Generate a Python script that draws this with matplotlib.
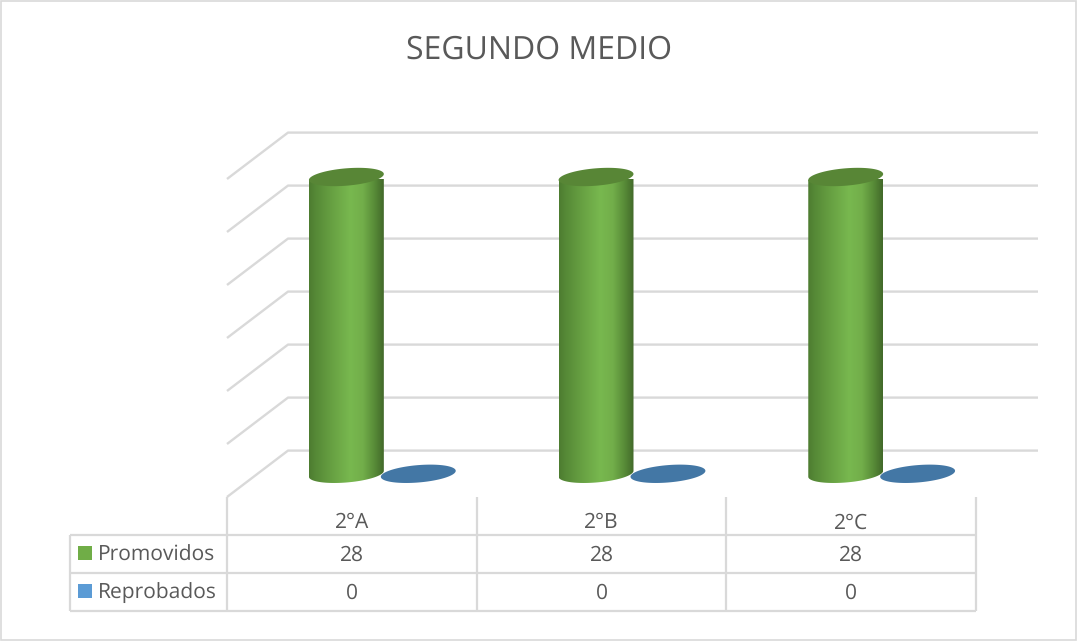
import numpy as np
import matplotlib
matplotlib.use("Agg")
import matplotlib.pyplot as plt
from matplotlib.colors import LinearSegmentedColormap
from matplotlib.patches import Polygon, Rectangle

plt.rcParams["font.family"] = ["Open Sans", "DejaVu Sans"]
plt.rcParams["text.hinting"] = "no_hinting"
plt.rcParams["text.hinting_factor"] = 1

# --- DATA ---
title = "SEGUNDO MEDIO"
categories = ["2°A", "2°B", "2°C"]
promovidos = [28, 28, 28]
reprobados = [0, 0, 0]
series_names = ["Promovidos", "Reprobados"]
grid_values = [0, 5, 10, 15, 20, 25, 30]

GRID = "#d9d9d9"
TEXT = "#595959"
W, H = 1077, 641

fig = plt.figure(figsize=(W / 100, H / 100), dpi=100, facecolor="white")

# pixel layer for frame and table
bg = fig.add_axes([0, 0, 1, 1])
bg.set_xlim(0, W)
bg.set_ylim(H, 0)
bg.axis("off")

# plot axes: x = category index, y = value, zero on the front floor edge
px_unit = 10.6
x0, x1 = 227, 976
y_zero = 497
ax = fig.add_axes([x0 / W, 1 - y_zero / H, (x1 - x0) / W, 30 * px_unit / H])
ax.set_xlim(-0.5, 2.5)
ax.set_ylim(0, 30)
ax.axis("off")

cat_px = (x1 - x0) / 3
depth_x = 61 / cat_px
depth_y = 46.4 / px_unit

# walls
for v in grid_values:
    ax.plot([-0.5, -0.5 + depth_x, 2.5 + depth_x + 0.004], [v, v + depth_y, v + depth_y],
            color=GRID, lw=1.7, clip_on=False, zorder=1, solid_capstyle="butt")


def ellipse(cx, cy, n=120):
    a, b, s = 0.15, 0.82, 0.28
    t = np.linspace(0, 2 * np.pi, n)
    return cx + a * np.cos(t), cy + b * np.sin(t) + s * np.cos(t)


green_map = LinearSegmentedColormap.from_list(
    "green", [(0, "#4d7c30"), (0.08, "#558836"), (0.3, "#67a042"), (0.55, "#78b84f"),
              (0.72, "#72ae4a"), (0.88, "#578a37"), (1, "#42692a")])
grad = np.linspace(0, 1, 256).reshape(1, -1)


def cylinder(cx, cy, value):
    bx, by = ellipse(cx, cy)
    tx, ty = ellipse(cx, cy + value)
    # lower half of the base, upper side of the body
    low = by <= cy + 0.28 * (bx - cx) / 0.15
    order = np.argsort(bx[low])
    body = np.vstack([
        np.column_stack([bx[low][order], by[low][order]]),
        [[cx + 0.15, cy + value + 0.28]],
        [[cx - 0.15, cy + value - 0.28]],
    ])
    im = ax.imshow(grad, cmap=green_map, aspect="auto", zorder=3,
                   extent=[cx - 0.15, cx + 0.15, cy - 2, cy + value + 2])
    im.set_clip_path(Polygon(body, closed=True, transform=ax.transData))
    ax.fill(tx, ty, color="#588636", lw=0, zorder=4, clip_on=False)


for i, (p, r) in enumerate(zip(promovidos, reprobados)):
    cy = depth_y / 2
    cylinder(i - 0.144 + depth_x / 2, cy, p)
    ex, ey = ellipse(i + 0.144 + depth_x / 2, cy + r)
    ax.fill(ex, ey, color="#4377a5", lw=0, zorder=5, clip_on=False)

ax.set_xlim(-0.5, 2.5)
ax.set_ylim(0, 30)

# --- TABLE ---
row_lines = [535, 573, 611]
col_lines = [227, 477, 726, 976]
for y in row_lines:
    bg.plot([70, 976], [y, y], color=GRID, lw=1.6, solid_capstyle="butt")
for x in col_lines:
    bg.plot([x, x], [497, 611], color=GRID, lw=1.6, solid_capstyle="butt")
bg.plot([70, 70], [535, 611], color=GRID, lw=1.6, solid_capstyle="butt")

for i, c in enumerate(categories):
    xc = x0 + cat_px * (i + 0.5)
    bg.text(xc, 523, c, ha="center", va="center", fontsize=14.8, color=TEXT)
    bg.text(xc, 555, str(promovidos[i]), ha="center", va="center", fontsize=14.8, color=TEXT)
    bg.text(xc, 593, str(reprobados[i]), ha="center", va="center", fontsize=14.8, color=TEXT)

for name, y, col in zip(series_names, [553, 591], ["#70ad47", "#5b9bd5"]):
    bg.add_patch(Rectangle((78, y - 7), 14, 14, facecolor=col, edgecolor="none"))
    bg.text(98, y + 2, name, ha="left", va="center", fontsize=14.8, color=TEXT)

bg.text(539.5, 50, title, ha="center", va="center", fontsize=23.4, color=TEXT)

# chart frame
bg.add_patch(Rectangle((1, 0.5), 1075, 639.5, facecolor="none", edgecolor=GRID, lw=1.2))

fig.savefig("out.png", dpi=100)
